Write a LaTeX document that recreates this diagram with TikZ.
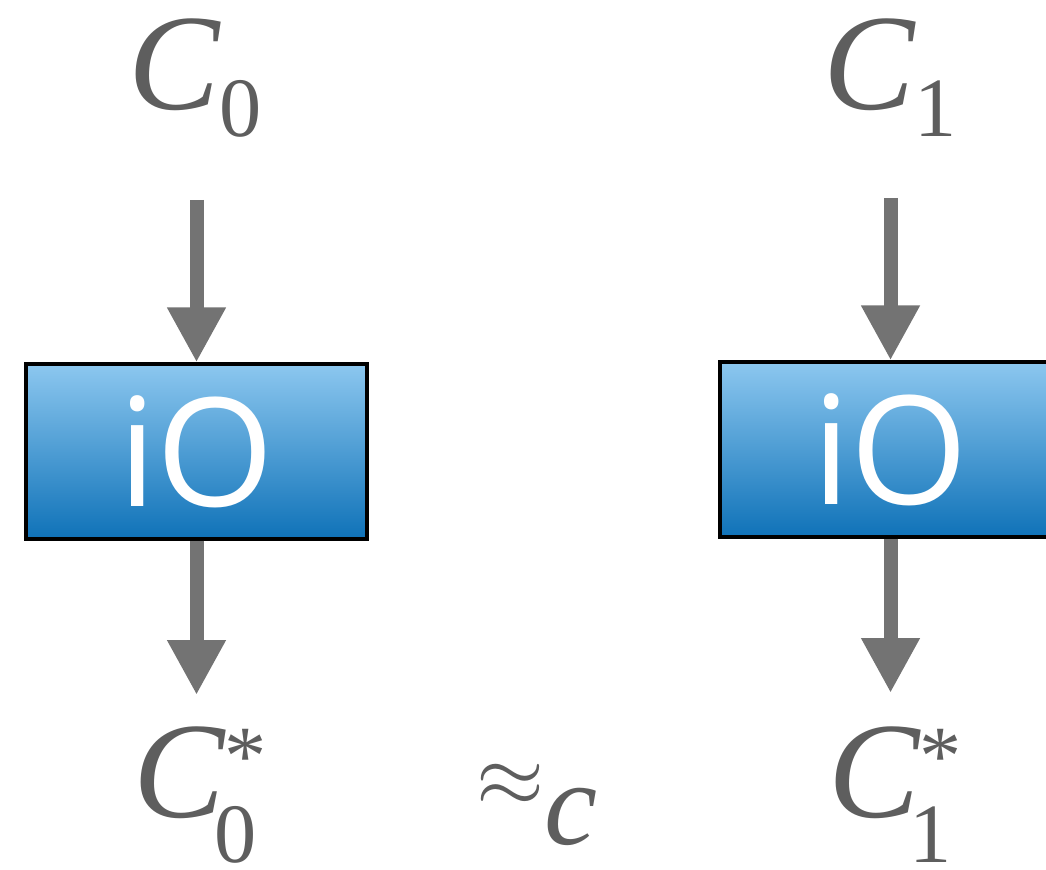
\documentclass[tikz,border=0pt]{standalone}
\usepackage{amssymb, amsmath}
\usepackage{fontspec}
\newfontfamily\capfont{Liberation Serif}
\newfontfamily\iofont{Open Sans}
\usetikzlibrary{arrows.meta}
\definecolor{labelgray}{HTML}{5E5E5E}
\definecolor{arrowgray}{HTML}{737373}
\definecolor{boxtop}{HTML}{8CC7EF}
\definecolor{boxbottom}{HTML}{0F72B8}
\newcommand{\smallcap}{\capfont\fontsize{24}{24}\selectfont}
\newcommand{\circname}[1]{{\itshape C}\raisebox{-0.27cm}{\smallcap #1}}
\newcommand{\circstar}[1]{{\itshape C}\rlap{\raisebox{0.33cm}{\smallcap *}}\kern-0.1cm\raisebox{-0.45cm}{\smallcap #1}}
\tikzset{
  iobox/.style={draw=black, line width=0.9pt, top color=boxtop, bottom color=boxbottom,
    minimum width=3.41cm, minimum height=1.75cm, inner sep=0pt,
    text=white, font=\iofont\fontsize{43}{45}\selectfont},
  lbl/.style={text=labelgray, anchor=base, inner sep=0pt, font=\capfont\fontsize{39}{42}\selectfont},
  flow/.style={arrowgray, line width=0.14cm, -{Triangle[length=0.55cm,width=0.55cm]}}
}
\begin{document}
\begin{tikzpicture}
\useasboundingbox (0,0) rectangle (10.46,8.69) ;
\clip (0,0) rectangle (10.46,8.69) ;
% the two obfuscations
\node[iobox] (io0) at (1.965,4.175) {iO} ;
\node[iobox] (io1) at (8.905,4.195) {iO} ;
% circuits and their obfuscated versions
\node[lbl] (c0) at (1.95,7.59) {\circname{0}} ;
\node[lbl] (c1) at (8.90,7.59) {\circname{1}} ;
\node[lbl] (c0s) at (1.95,0.52) {\circstar{0}} ;
\node[lbl] (c1s) at (8.90,0.52) {\circstar{1}} ;
\node[lbl, anchor=base west] (eq) at (4.76,0.63)
  {{\fontsize{32}{32}\selectfont$\approx$}\raisebox{-0.38cm}{\fontsize{34}{34}\selectfont\itshape c}} ;
\coordinate (in0) at (1.965,6.69) ;
\coordinate (in1) at (8.905,6.71) ;
\coordinate (out0) at (1.965,1.74) ;
\coordinate (out1) at (8.905,1.76) ;
\draw[flow] (in0) -- (io0.north) ;
\draw[flow] (in1) -- (io1.north) ;
\draw[flow] (io0.south) -- (out0) ;
\draw[flow] (io1.south) -- (out1) ;
\end{tikzpicture}
\end{document}
